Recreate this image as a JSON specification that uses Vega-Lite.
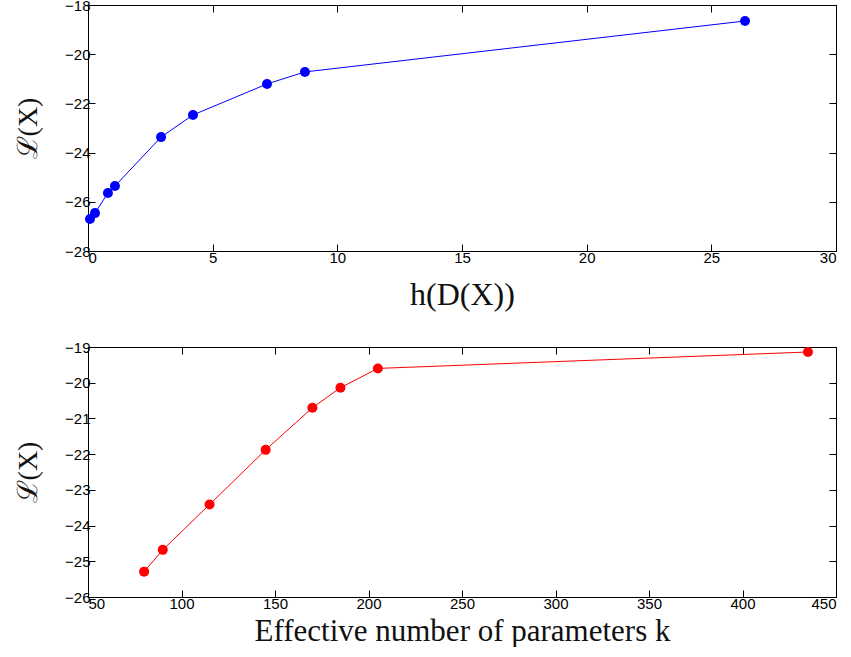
{
  "$schema": "https://vega.github.io/schema/vega-lite/v6.json",
  "padding": {"left": 14, "top": -3, "right": 10, "bottom": 0},
  "background": "white",
  "datasets": {
    "top": [
      {"h": 0.08, "L": -26.70},
      {"h": 0.28, "L": -26.46},
      {"h": 0.8, "L": -25.64},
      {"h": 1.08, "L": -25.36},
      {"h": 2.93, "L": -23.37},
      {"h": 4.21, "L": -22.47},
      {"h": 7.18, "L": -21.21},
      {"h": 8.7, "L": -20.72},
      {"h": 26.35, "L": -18.65}
    ],
    "bottom": [
      {"k": 80, "L": -25.29},
      {"k": 90, "L": -24.68},
      {"k": 115, "L": -23.41},
      {"k": 145, "L": -21.88},
      {"k": 170, "L": -20.70},
      {"k": 185, "L": -20.14},
      {"k": 205, "L": -19.60},
      {"k": 435, "L": -19.14}
    ]
  },
  "config": {
    "view": {"stroke": "black", "strokeWidth": 1},
    "concat": {"spacing": 96},
    "axis": {
      "grid": false,
      "domainColor": "black",
      "tickColor": "black",
      "tickWidth": 1,
      "labelColor": "black",
      "labelFont": "Liberation Sans",
      "labelFontSize": 15,
      "titleFont": "Liberation Serif",
      "titleFontWeight": "normal",
      "titleColor": "#111111",
      "titleFontSize": 28,
      "tickSize": -7
    },
    "axisX": {"labelPadding": 6},
    "axisY": {"labelPadding": 5}
  },
  "bounds": "flush",
  "vconcat": [
    {
      "width": 748,
      "height": 246,
      "data": {"name": "top"},
      "layer": [
        {
          "mark": {"type": "line", "color": "#0000ff", "strokeWidth": 1, "point": {"filled": true, "size": 100, "color": "#0000ff", "opacity": 1}},
          "encoding": {
            "x": {"field": "h", "type": "quantitative", "scale": {"domain": [0, 30], "nice": false},
                  "axis": {"values": [0, 5, 10, 15, 20, 25, 30], "title": "h(D(X))", "titleFontSize": 32, "titlePadding": 14}},
            "y": {"field": "L", "type": "quantitative", "scale": {"domain": [-28, -18], "nice": false, "zero": false},
                  "axis": {"values": [-28, -26, -24, -22, -20, -18], "title": "ℒ(X)", "titleFontSize": 28, "titlePadding": 22}}
          }
        },
        {
          "mark": {"type": "point", "opacity": 0},
          "encoding": {
            "x": {"field": "h", "type": "quantitative", "axis": {"orient": "top", "values": [0, 5, 10, 15, 20, 25, 30], "labels": false, "title": null}},
            "y": {"field": "L", "type": "quantitative", "axis": {"orient": "right", "values": [-28, -26, -24, -22, -20, -18], "labels": false, "title": null}}
          }
        }
      ],
      "resolve": {"axis": {"x": "independent", "y": "independent"}}
    },
    {
      "width": 748,
      "height": 250,
      "data": {"name": "bottom"},
      "layer": [
        {
          "mark": {"type": "line", "color": "#ff0000", "strokeWidth": 1, "point": {"filled": true, "size": 100, "color": "#ff0000", "opacity": 1}},
          "encoding": {
            "x": {"field": "k", "type": "quantitative", "scale": {"domain": [50, 450], "nice": false, "zero": false},
                  "axis": {"values": [50, 100, 150, 200, 250, 300, 350, 400, 450], "title": "Effective number of parameters k", "titleFontSize": 31, "titlePadding": 5}},
            "y": {"field": "L", "type": "quantitative", "scale": {"domain": [-26, -19], "nice": false, "zero": false},
                  "axis": {"values": [-26, -25, -24, -23, -22, -21, -20, -19], "title": "ℒ(X)", "titleFontSize": 28, "titlePadding": 22}}
          }
        },
        {
          "mark": {"type": "point", "opacity": 0},
          "encoding": {
            "x": {"field": "k", "type": "quantitative", "axis": {"orient": "top", "values": [50, 100, 150, 200, 250, 300, 350, 400, 450], "labels": false, "title": null}},
            "y": {"field": "L", "type": "quantitative", "axis": {"orient": "right", "values": [-26, -25, -24, -23, -22, -21, -20, -19], "labels": false, "title": null}}
          }
        }
      ],
      "resolve": {"axis": {"x": "independent", "y": "independent"}}
    }
  ]
}
